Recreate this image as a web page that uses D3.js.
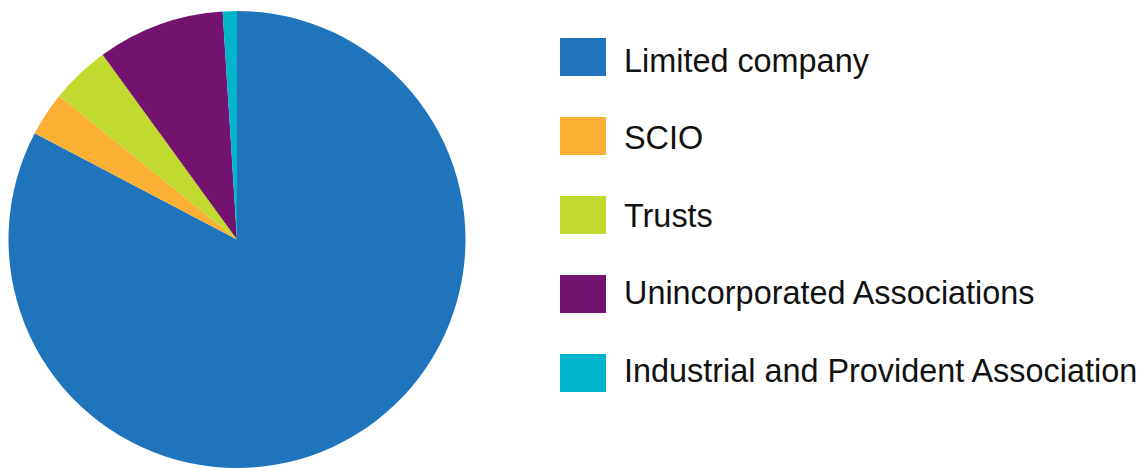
<!DOCTYPE html>
<html>
<head>
<meta charset="utf-8">
<script src="https://cdn.jsdelivr.net/npm/d3@7"></script>
<style>
  body { margin: 0; background: #fff; }
  svg { display: block; }
  .legend text { font-family: "Liberation Sans", Arial, sans-serif; font-size: 32.4px; fill: #111; }
</style>
</head>
<body>
<svg id="pie" width="1143" height="468"></svg>
<script>
// legal structure shares (percent)
var categories = ["Limited company", "SCIO", "Trusts", "Unincorporated Associations", "Industrial and Provident Association"];
var shares = [82.7, 3.1, 4.2, 9.0, 1.0];
var sliceColors = ["#1f74bc", "#fbb034", "#c2d92e", "#74136f", "#00b5cc"];

var width = 1143, height = 468;
var cx = 237, cy = 239.5, radius = 228.5;

var svg = d3.select("svg#pie");

var data = categories.map((c, i) => ({ name: c, value: shares[i] }));

var color = d3.scaleOrdinal()
  .domain(categories)
  .range(sliceColors);

var pie = d3.pie()
  .sort(null)
  .value(d => d.value);

var arc = d3.arc()
  .innerRadius(0)
  .outerRadius(radius);

var g = svg.append("g")
  .attr("transform", translate(cx, cy));

g.selectAll("path")
  .data(pie(data))
  .enter().append("path")
    .attr("d", arc)
    .attr("fill", d => color(d.data.name));

// legend: swatches and labels step a little differently
var ySwatch = d3.scalePoint()
  .domain(categories)
  .range([38, 354]);

var yLabel = d3.scalePoint()
  .domain(categories)
  .range([71.7, 381.7]);

var legend = svg.append("g").attr("class", "legend");

legend.selectAll("rect")
  .data(categories)
  .enter().append("rect")
    .attr("x", 560)
    .attr("y", d => ySwatch(d))
    .attr("width", 46)
    .attr("height", 38)
    .attr("fill", d => color(d));

legend.selectAll("text")
  .data(categories)
  .enter().append("text")
    .attr("x", 624)
    .attr("y", d => yLabel(d))
    .text(d => d);

function translate(x, y) {
  return 'translate(' + String(x) + ',' + String(y) + ')';
}
</script>
</body>
</html>
